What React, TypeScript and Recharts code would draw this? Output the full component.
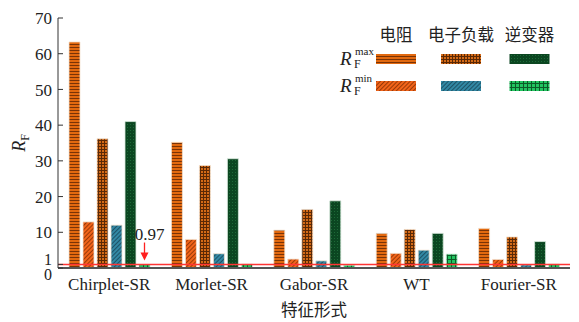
import React from 'react';
import { BarChart, Bar, XAxis, YAxis, ReferenceLine, LabelList } from 'recharts';

const categories = ['Chirplet-SR', 'Morlet-SR', 'Gabor-SR', 'WT', 'Fourier-SR'];
const resistorMax = [63.3, 35.2, 10.6, 9.7, 11.1];
const resistorMin = [12.9, 8.0, 2.5, 4.1, 2.4];
const loadMax = [36.2, 28.7, 16.4, 10.8, 8.7];
const loadMin = [12.0, 4.0, 2.0, 5.0, 0.9];
const inverterMax = [41.0, 30.6, 18.8, 9.7, 7.4];
const inverterMin = [0.97, 1.1, 0.8, 3.9, 1.1];
const yTicks = [0, 1, 10, 20, 30, 40, 50, 60, 70];
const threshold = 1;
const annotationText = '0.97';

const data = categories.map((c, i) => ({
  name: c,
  rMax: resistorMax[i],
  rMin: resistorMin[i],
  lMax: loadMax[i],
  lMin: loadMin[i],
  iMax: inverterMax[i],
  iMin: inverterMin[i],
}));

const SERIF = '"Liberation Serif", "Times New Roman", serif';
const CJK = '"Noto Sans CJK SC", sans-serif';

function Patterns({ p }: { p: string }) {
  return (
    <defs>
      <pattern id={`${p}rMax`} patternUnits="userSpaceOnUse" width="3" height="3">
        <rect width="3" height="3" fill="#E2690F" />
        <rect y="2" width="3" height="1" fill="#7A3306" />
      </pattern>
      <pattern id={`${p}rMin`} patternUnits="userSpaceOnUse" width="3" height="3" patternTransform="rotate(45)">
        <rect width="3" height="3" fill="#F2641A" />
        <rect x="2" width="1" height="3" fill="#9A3A08" />
      </pattern>
      <pattern id={`${p}lMax`} patternUnits="userSpaceOnUse" width="3" height="3">
        <rect width="3" height="3" fill="#D46A16" />
        <rect y="2" width="3" height="1" fill="#5A2805" />
        <rect x="2" width="1" height="3" fill="#5A2805" />
      </pattern>
      <pattern id={`${p}lMin`} patternUnits="userSpaceOnUse" width="3" height="3" patternTransform="rotate(45)">
        <rect width="3" height="3" fill="#3288A4" />
        <rect x="2" width="1" height="3" fill="#1D5266" />
      </pattern>
      <pattern id={`${p}iMax`} patternUnits="userSpaceOnUse" width="3" height="3">
        <rect width="3" height="3" fill="#0B4621" />
        <rect x="1" y="1" width="1" height="1" fill="#1E6A38" />
      </pattern>
      <pattern id={`${p}iMin`} patternUnits="userSpaceOnUse" width="4" height="4">
        <rect width="4" height="4" fill="#22C460" />
        <rect y="3" width="4" height="1" fill="#0B5A28" />
        <rect x="3" width="1" height="4" fill="#0B5A28" />
      </pattern>
    </defs>
  );
}

const YTick = (props: any) => {
  const { x, y, payload } = props;
  const v = payload.value;
  const dy = v === 1 ? -5 : v === 0 ? 6 : 0;
  const fs = v === 1 || v === 0 ? 16 : 17;
  return (
    <g>
      <line x1={x + 6} x2={x + 11} y1={y} y2={y} stroke="#333" strokeWidth={1} />
      <text x={x} y={y + dy} dy="0.36em" textAnchor="end" fontFamily={SERIF} fontSize={fs} fill="#222">
        {v}
      </text>
    </g>
  );
};

const Annotation = (props: any) => {
  const { x, y, width, index } = props;
  if (index !== 0) return null;
  const cx = x + width / 2;
  const tip = y - 4;
  return (
    <g>
      <text x={cx + 5} y={tip - 21} textAnchor="middle" fontFamily={SERIF} fontSize={17} fill="#222">
        {annotationText}
      </text>
      <line x1={cx} x2={cx} y1={tip - 18} y2={tip - 7} stroke="#FF2020" strokeWidth={1.3} />
      <polygon points={`${cx - 4},${tip - 8} ${cx + 4},${tip - 8} ${cx},${tip}`} fill="#FF2020" />
    </g>
  );
};

const barStroke = '#F3E2D0';

function Legend() {
  const cols = [396, 461, 529.5];
  const heads = ['电阻', '电子负载', '逆变器'];
  const rows = [
    { y: 54, sup: 'max', keys: ['rMax', 'lMax', 'iMax'] },
    { y: 81, sup: 'min', keys: ['rMin', 'lMin', 'iMin'] },
  ];
  return (
    <svg width={579} height={110} style={{ position: 'absolute', left: 0, top: 0 }}>
      <Patterns p="lg" />
      {heads.map((h, i) => (
        <text key={h} x={cols[i]} y={41} textAnchor="middle" fontFamily={CJK} fontSize={16.5} fill="#222">
          {h}
        </text>
      ))}
      {rows.map((r) => (
        <g key={r.sup}>
          <text x={340} y={r.y + 11} fontFamily={SERIF} fontSize={19} fontStyle="italic" fill="#222">R</text>
          <text x={354} y={r.y + 14} fontFamily={SERIF} fontSize={12} fill="#222">F</text>
          <text x={355} y={r.y + 1} fontFamily={SERIF} fontSize={11} fill="#222">{r.sup}</text>
          {r.keys.map((k, i) => (
            <rect key={k} x={cols[i] - 20} y={r.y} width={40} height={10} fill={`url(#lg${k})`} />
          ))}
        </g>
      ))}
    </svg>
  );
}

const YLabel = () => (
  <g transform="translate(25,143) rotate(-90)">
    <text x={0} y={0} textAnchor="middle" fontFamily={SERIF} fontSize={18} fill="#222">
      <tspan fontStyle="italic">R</tspan>
      <tspan fontSize={12} dy={4}>F</tspan>
    </text>
  </g>
);

export default function App() {
  return (
    <div style={{ position: 'absolute', left: 0, top: 0, width: 579, height: 322, background: '#fff' }}>
      <BarChart
        width={579}
        height={322}
        data={data}
        margin={{ top: 18, right: 9, bottom: 0, left: 0 }}
        barSize={11}
        barGap={3}
      >
        <Patterns p="ch" />
        <XAxis
          dataKey="name"
          height={54}
          tickLine={false}
          tickSize={0}
          tickMargin={10}
          axisLine={{ stroke: '#555', strokeWidth: 2 }}
          tick={{ fontFamily: SERIF, fontSize: 17, fill: '#222' }}
          label={{ value: '特征形式', position: 'insideBottom', offset: 6, fontFamily: CJK, fontSize: 16.5, fill: '#222' }}
        />
        <YAxis
          width={58}
          domain={[0, 70]}
          ticks={yTicks}
          interval={0}
          tickLine={false}
          tickSize={0}
          tickMargin={6}
          axisLine={{ stroke: '#333', strokeWidth: 1 }}
          tick={<YTick />}
          label={<YLabel />}
        />
        <Bar dataKey="rMax" fill="url(#chrMax)" stroke={barStroke} strokeWidth={0.8} isAnimationActive={false} />
        <Bar dataKey="rMin" fill="url(#chrMin)" stroke={barStroke} strokeWidth={0.8} isAnimationActive={false} />
        <Bar dataKey="lMax" fill="url(#chlMax)" stroke={barStroke} strokeWidth={0.8} isAnimationActive={false} />
        <Bar dataKey="lMin" fill="url(#chlMin)" stroke={barStroke} strokeWidth={0.8} isAnimationActive={false} />
        <Bar dataKey="iMax" fill="url(#chiMax)" stroke="#D8E8DC" strokeWidth={0.8} isAnimationActive={false} />
        <Bar dataKey="iMin" fill="url(#chiMin)" stroke="#D8E8DC" strokeWidth={0.8} isAnimationActive={false}>
          <LabelList dataKey="iMin" content={<Annotation />} />
        </Bar>
        <ReferenceLine y={threshold} stroke="#FF3535" strokeWidth={1.5} />
      </BarChart>
      <Legend />
    </div>
  );
}
